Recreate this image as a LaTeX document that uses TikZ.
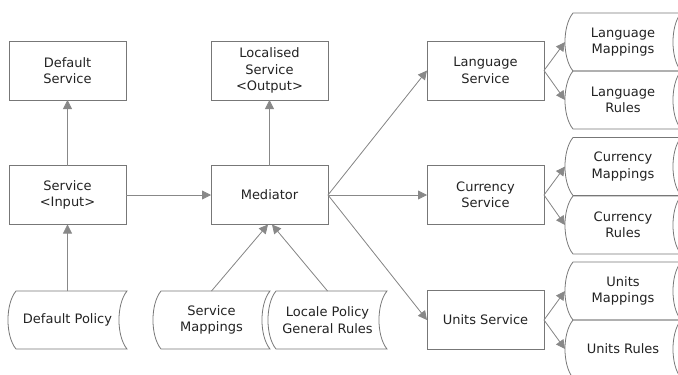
\documentclass[tikz,border=0pt]{standalone}
\usepackage{fontspec}
\setmainfont{DejaVu Sans}
\usetikzlibrary{arrows.meta}
\definecolor{linegray}{HTML}{888888}
\definecolor{boxgray}{HTML}{777777}
\definecolor{txt}{HTML}{222222}
\tikzset{
  base/.style={align=center, font=\fontsize{13}{16.5}\selectfont, text=txt, inner sep=0pt, outer sep=0pt},
  box/.style={base, draw=boxgray, line width=0.8pt, minimum width=117pt, minimum height=59pt},
  sd/.style={base, minimum height=58pt},
  sdline/.style={draw=boxgray, line width=0.8pt},
  arr/.style={draw=linegray, line width=0.8pt, -{Triangle[length=9pt,width=9pt]}, fill=linegray},
}
\newcommand{\sdraw}[1]{%
  \draw[sdline] ([xshift=8pt]#1.north west) -- (#1.north east)
    .. controls +(-10.7,13) and +(-10.7,-13) .. (#1.south east)
    -- ([xshift=8pt]#1.south west)
    .. controls +(-10.7,-13) and +(-10.7,13) .. ([xshift=8pt]#1.north west) -- cycle;}
\begin{document}
\begin{tikzpicture}[x=1pt,y=-1pt]
\useasboundingbox (0,0) rectangle (678,375);
% boxes
\node[box] (ds) at (67.5,70.5) {Default\\Service};
\node[box] (svc) at (67.5,195) {Service\\<Input>};
\node[box] (loc) at (269.5,70.5) {Localised\\Service\\<Output>};
\node[box] (med) at (269.5,195) {Mediator};
\node[box] (lang) at (485.5,70.5) {Language\\Service};
\node[box] (cur) at (485.5,195) {Currency\\Service};
\node[box] (units) at (485.5,320) {Units Service};
% stored data shapes
\node[sd, minimum width=119pt] (dp) at (67.5,320) {Default Policy};
\node[sd, minimum width=117pt] (smap) at (211.5,320) {Service\\Mappings};
\node[sd, minimum width=119pt] (lp) at (327.5,320) {Locale Policy\\General Rules};
\node[sd, minimum width=116pt] (lm) at (623,42) {Language\\Mappings};
\node[sd, minimum width=116pt] (lr) at (623,100) {Language\\Rules};
\node[sd, minimum width=116pt] (cm) at (623,166.5) {Currency\\Mappings};
\node[sd, minimum width=116pt] (cr) at (623,225) {Currency\\Rules};
\node[sd, minimum width=116pt] (um) at (623,291) {Units\\Mappings};
\node[sd, minimum width=116pt] (ur) at (623,349) {Units Rules};
\sdraw{dp}\sdraw{smap}\sdraw{lp}
\sdraw{lm}\sdraw{lr}\sdraw{cm}\sdraw{cr}\sdraw{um}\sdraw{ur}
% connectors
\draw[arr] (svc) -- (ds);
\draw[arr] (dp) -- (svc);
\draw[arr] (svc) -- (med);
\draw[arr] (med) -- (loc);
\draw[arr] (smap.north) -- ([xshift=-1.5pt]med.south);
\draw[arr] (lp.north) -- ([xshift=2.5pt]med.south);
\draw[arr] (med.east) -- (lang.west);
\draw[arr] (med.east) -- (cur.west);
\draw[arr] (med.east) -- (units.west);
\draw[arr] (lang.east) -- (lm.west);
\draw[arr] (lang.east) -- (lr.west);
\draw[arr] (cur.east) -- (cm.west);
\draw[arr] (cur.east) -- (cr.west);
\draw[arr] (units.east) -- (um.west);
\draw[arr] (units.east) -- (ur.west);
\end{tikzpicture}
\end{document}
